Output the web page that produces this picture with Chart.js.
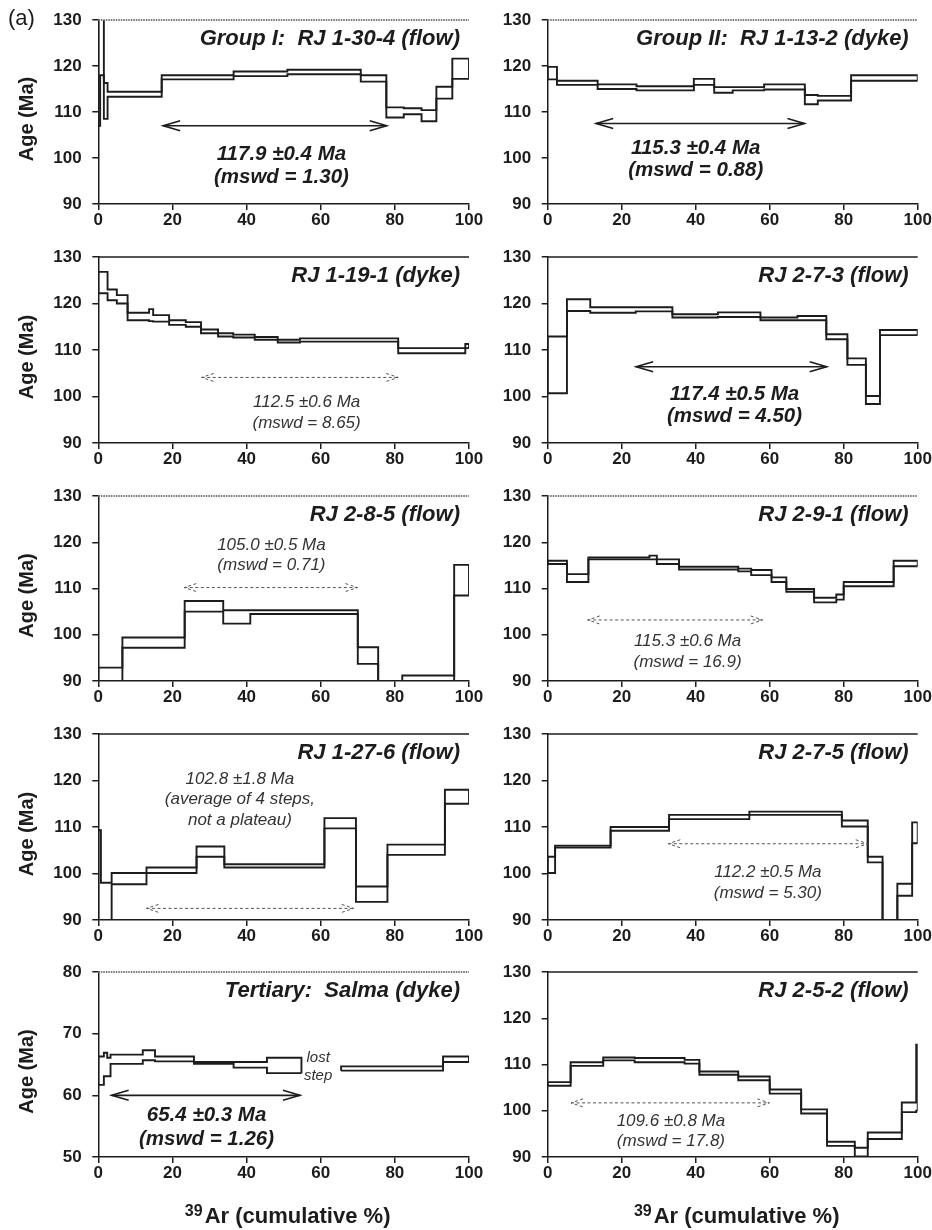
<!DOCTYPE html>
<html>
<head>
<meta charset="utf-8">
<script src="https://cdn.jsdelivr.net/npm/chart.js@4.4.1/dist/chart.umd.min.js"></script>
<style>
  body { margin: 0; background: #fff; }
  #wrap { position: relative; width: 932px; height: 1230px; overflow: hidden; }
  canvas { position: absolute; }
</style>
</head>
<body>
<div id="wrap"></div>
<script>
// step edges (cumulative % 39Ar), upper and lower age bounds (Ma) for each step
const edges1 = [0, 0.5, 1.5, 2.5, 17.1, 36.5, 51, 70.8, 77.7, 82.4, 87.2, 91.2, 95.5, 100];
const hi1 = [140, 140, 116.3, 114.4, 118.0, 118.8, 119.2, 118.0, 111.0, 110.8, 110.4, 115.5, 121.6];
const lo1 = [107, 118, 108.5, 113.3, 117.1, 117.8, 118.2, 116.6, 108.8, 109.5, 108.0, 112.9, 117.2];

const edges2 = [0, 2.5, 13.5, 24, 39.5, 45, 50, 58.5, 69.5, 73, 82, 100];
const hi2 = [119.8, 116.8, 116.0, 115.6, 117.2, 115.4, 115.4, 116.0, 113.7, 113.5, 118.0];
const lo2 = [117.1, 115.9, 115.0, 114.7, 115.9, 114.2, 114.7, 114.9, 111.7, 112.5, 116.8];

const edges3 = [0, 2.5, 5.0, 7.9, 13.7, 14.8, 19.1, 23.6, 27.7, 32.3, 36.4, 42.2, 48.4, 54.4, 80.9, 99.0, 100];
const hi3 = [126.8, 123.0, 121.8, 118.0, 118.8, 117.5, 116.4, 116.0, 114.4, 113.6, 113.3, 112.8, 112.2, 112.5, 110.4, 111.3];
const lo3 = [122.2, 120.7, 120.0, 116.4, 116.2, 116.1, 115.4, 115.0, 113.6, 112.9, 112.7, 112.2, 111.6, 111.8, 109.3, 110.4];

const edges4 = [0, 5.2, 11.5, 23.8, 33.7, 46, 57.5, 67.5, 75.3, 81, 86, 89.8, 100];
const hi4 = [112.9, 120.9, 119.2, 119.2, 117.7, 118.1, 117.0, 117.3, 113.4, 108.2, 100.1, 114.3];
const lo4 = [100.7, 118.4, 118.0, 118.3, 117.0, 117.1, 116.4, 116.4, 112.3, 106.8, 98.4, 113.2];

const edges5 = [0, 6.5, 23.3, 33.7, 41, 70, 75.5, 82, 96, 100];
const hi5 = [92.9, 99.4, 107.3, 105.3, 105.3, 97.3, 85, 91.2, 115.1];
const lo5 = [85, 97.2, 105.0, 102.4, 104.5, 93.7, 82, 85, 108.5];

const edges6 = [0, 5.2, 11, 27.5, 29.5, 35.5, 51.5, 55, 60.5, 64.5, 72, 78, 80, 93.5, 100];
const hi6 = [116.0, 113.1, 116.7, 117.1, 116.3, 114.7, 114.3, 114.0, 112.4, 109.9, 108.0, 108.7, 111.4, 116.0];
const lo6 = [115.3, 111.4, 116.3, 116.3, 115.3, 114.1, 113.7, 112.9, 111.4, 109.3, 107.0, 107.6, 110.5, 114.8];

const edges7 = [0, 0.7, 3.6, 13, 26.5, 34, 61, 69.5, 78, 93.5, 100];
const hi7 = [109.3, 98.0, 100.1, 101.3, 105.8, 102.0, 111.9, 97.2, 106.2, 118.0];
const lo7 = [85, 85, 97.7, 100.1, 103.6, 101.3, 109.7, 93.9, 104.0, 115.0];

const edges8 = [0, 2, 17, 32.8, 54.5, 79.5, 86.5, 90.5, 94.5, 98.5, 100];
const hi8 = [103.6, 106.0, 110.0, 112.6, 113.3, 111.4, 103.6, 88, 97.8, 111.0];
const lo8 = [100.1, 105.6, 109.2, 111.7, 112.6, 110.1, 102.4, 85, 95.2, 106.5];

const edges9 = [0, 1.5, 2.4, 3.3, 12, 15.3, 25.8, 36.5, 45.5, 54.8, 65.5, 93, 100];
const hi9 = [66.3, 66.9, 66.1, 66.6, 67.3, 66.3, 65.4, 65.4, 66.1, null, 64.7, 66.3];
const lo9 = [61.7, 63.1, 63.1, 65.1, 65.7, 65.5, 65.1, 64.5, 63.6, null, 64.0, 65.4];

const edges10 = [0, 6.2, 15, 23.5, 37, 41, 51.5, 60, 68.5, 75.5, 83, 86.5, 95.7, 99.6, 100];
const hi10 = [106.2, 110.5, 111.5, 111.4, 111.0, 108.5, 107.4, 104.6, 100.3, 93.3, 92.0, 95.3, 101.8, 114.3];
const lo10 = [105.4, 109.7, 110.9, 110.5, 110.2, 107.8, 106.6, 103.7, 99.4, 92.4, 90.1, 93.9, 99.7, 100];

const titles = [
  'Group I:  RJ 1-30-4 (flow)', 'Group II:  RJ 1-13-2 (dyke)',
  'RJ 1-19-1 (dyke)', 'RJ 2-7-3 (flow)',
  'RJ 2-8-5 (flow)', 'RJ 2-9-1 (flow)',
  'RJ 1-27-6 (flow)', 'RJ 2-7-5 (flow)',
  'Tertiary:  Salma (dyke)', 'RJ 2-5-2 (flow)'
];
const yMin = [90, 90, 90, 90, 90, 90, 90, 90, 50, 90];
const yMax = [130, 130, 130, 130, 130, 130, 130, 130, 80, 130];
const yTickStep = [10, 10, 10, 10, 10, 10, 10, 10, 10, 10];
const xTicks = [0, 20, 40, 60, 80, 100];

// plateau arrows: start %, end %, age level
const arrowFrom = [17.5, 13.1, 27.9, 23.9, 23.2, 10.8, 13.0, 32.6, 3.6, 6.3];
const arrowTo = [77.8, 69.4, 80.9, 75.4, 69.9, 58.1, 68.9, 86.5, 54.4, 59.9];
const arrowAt = [107, 107.5, 104.1, 106.4, 110.2, 103.2, 92.5, 106.4, 60.0, 101.7];
const isPlateau = [true, true, false, true, false, false, false, false, true, false];

// plateau age labels
const noteLines = [
  ['117.9 ±0.4 Ma', '(mswd = 1.30)'],
  ['115.3 ±0.4 Ma', '(mswd = 0.88)'],
  ['112.5 ±0.6 Ma', '(mswd = 8.65)'],
  ['117.4 ±0.5 Ma', '(mswd = 4.50)'],
  ['105.0 ±0.5 Ma', '(mswd = 0.71)'],
  ['115.3 ±0.6 Ma', '(mswd = 16.9)'],
  ['102.8 ±1.8 Ma', '(average of 4 steps,', 'not a plateau)'],
  ['112.2 ±0.5 Ma', '(mswd = 5.30)'],
  ['65.4 ±0.3 Ma', '(mswd = 1.26)'],
  ['109.6 ±0.8 Ma', '(mswd = 17.8)']
];
const noteX = [49.4, 40, 56.2, 50.5, 46.7, 37.8, 38.2, 59.5, 29.2, 33.3];
const noteY = [
  [100.7, 95.9], [102.1, 97.4], [98.7, 94.3], [100.4, 95.7], [119.4, 115.0],
  [98.5, 94.0], [120.2, 115.9, 111.4], [100.2, 95.7], [56.8, 52.9], [97.7, 93.4]
];
const lostLines = ['lost', 'step'];
const lostX = 59.3;
const lostY = [66.1, 63.1];

const dottedTop = [true, true, false, false, true, true, false, false, true, false];

const FONT = '"Liberation Sans", Arial, sans-serif';
const INK = '#1c1c1c';

const panels = [
  [edges1, hi1, lo1], [edges2, hi2, lo2], [edges3, hi3, lo3], [edges4, hi4, lo4],
  [edges5, hi5, lo5], [edges6, hi6, lo6], [edges7, hi7, lo7], [edges8, hi8, lo8],
  [edges9, hi9, lo9], [edges10, hi10, lo10]
];

// upper line closes each run of steps at both ends, lower line is a plain step line
function stepLines(edges, hi, lo) {
  const up = [], dn = [];
  for (let i = 0; i < hi.length; i++) {
    if (hi[i] === null) {
      up.push({ x: edges[i], y: null });
      dn.push({ x: edges[i], y: null });
      continue;
    }
    const first = i === 0 || hi[i - 1] === null;
    const last = i === hi.length - 1 || hi[i + 1] === null;
    if (first) up.push({ x: edges[i], y: lo[i] });
    up.push({ x: edges[i], y: hi[i] });
    dn.push({ x: edges[i], y: lo[i] });
    if (last) {
      up.push({ x: edges[i + 1], y: hi[i] });
      up.push({ x: edges[i + 1], y: lo[i] });
      dn.push({ x: edges[i + 1], y: lo[i] });
    }
  }
  return [up, dn];
}

function drawArrow(ctx, x0, x1, yy, solid) {
  ctx.strokeStyle = solid ? INK : '#555';
  ctx.lineWidth = solid ? 1.6 : 1;
  ctx.setLineDash(solid ? [] : [3, 2.5]);
  ctx.beginPath();
  ctx.moveTo(x0, yy); ctx.lineTo(x1, yy);
  ctx.stroke();
  const L = solid ? 17 : 12, H = solid ? 5 : 4;
  ctx.beginPath();
  ctx.moveTo(x0 + L, yy - H); ctx.lineTo(x0, yy); ctx.lineTo(x0 + L, yy + H);
  ctx.moveTo(x1 - L, yy - H); ctx.lineTo(x1, yy); ctx.lineTo(x1 - L, yy + H);
  ctx.stroke();
  ctx.setLineDash([]);
}

const decor = {
  id: 'decor',
  afterDraw(chart, args, opts) {
    const i = opts.idx;
    const ctx = chart.ctx, a = chart.chartArea;
    const xs = chart.scales.x, ys = chart.scales.y;
    ctx.save();

    // top frame line
    ctx.setLineDash(dottedTop[i] ? [1.5, 1] : []);
    ctx.strokeStyle = dottedTop[i] ? '#777' : INK;
    ctx.lineWidth = dottedTop[i] ? 2 : 1.5;
    ctx.beginPath(); ctx.moveTo(a.left, a.top); ctx.lineTo(a.right, a.top); ctx.stroke();
    ctx.setLineDash([]);

    // sample title
    ctx.fillStyle = INK;
    ctx.font = 'italic bold 22px ' + FONT;
    ctx.textAlign = 'right';
    ctx.textBaseline = 'middle';
    ctx.fillText(titles[i], a.right - 9, a.top + 19);

    // plateau arrow and label
    drawArrow(ctx, xs.getPixelForValue(arrowFrom[i]), xs.getPixelForValue(arrowTo[i]),
      ys.getPixelForValue(arrowAt[i]), isPlateau[i]);
    ctx.textAlign = 'center';
    ctx.fillStyle = isPlateau[i] ? INK : '#333';
    ctx.font = isPlateau[i] ? 'italic bold 20.5px ' + FONT : 'italic 17px ' + FONT;
    noteLines[i].forEach((t, k) => {
      ctx.fillText(t, xs.getPixelForValue(noteX[i]), ys.getPixelForValue(noteY[i][k]));
    });

    if (i === 8) {
      ctx.font = 'italic 15px ' + FONT;
      ctx.fillStyle = '#333';
      lostLines.forEach((t, k) => {
        ctx.fillText(t, xs.getPixelForValue(lostX), ys.getPixelForValue(lostY[k]));
      });
    }

    // y title on the left column
    if (i % 2 === 0) {
      ctx.save();
      ctx.translate(27, (a.top + a.bottom) / 2 + 7);
      ctx.rotate(-Math.PI / 2);
      ctx.font = 'bold 20px ' + FONT;
      ctx.fillStyle = INK;
      ctx.fillText('Age (Ma)', 0, 0);
      ctx.restore();
    }

    // x title under the bottom row
    if (i >= 8) {
      const base = a.bottom + 66;
      ctx.font = 'bold 16px ' + FONT;
      const w1 = ctx.measureText('39').width;
      ctx.font = 'bold 22px ' + FONT;
      const main = 'Ar (cumulative %)';
      const w2 = ctx.measureText(main).width;
      const cx = (a.left + a.right) / 2 + 4;
      const x0 = cx - (w1 + 2 + w2) / 2;
      ctx.textAlign = 'left';
      ctx.textBaseline = 'alphabetic';
      ctx.fillStyle = INK;
      ctx.font = 'bold 16px ' + FONT;
      ctx.fillText('39', x0, base - 7);
      ctx.font = 'bold 22px ' + FONT;
      ctx.fillText(main, x0 + w1 + 2, base);
    }

    if (i === 0) {
      ctx.font = '22px ' + FONT;
      ctx.textAlign = 'left';
      ctx.textBaseline = 'middle';
      ctx.fillStyle = INK;
      ctx.fillText('(a)', 8, a.top - 1);
    }
    ctx.restore();
  }
};

const rowTop = [20, 257, 496, 734, 972];
const rowBottom = [204, 443, 681, 920, 1157];
const colLeft = [0, 480];
const colWidth = [490, 452];
const axisWidth = [98.3, 67.7];
const padRight = [21, 14.3];
const PAD_TOP = 24, X_AXIS_H = 32;

const wrap = document.getElementById('wrap');

panels.forEach(([edges, hi, lo], i) => {
  const col = i % 2, row = Math.floor(i / 2);
  const extra = row === 4 ? 50 : 0;
  const h = PAD_TOP + (rowBottom[row] - rowTop[row]) + X_AXIS_H + extra;
  const cv = document.createElement('canvas');
  cv.width = colWidth[col];
  cv.height = h;
  cv.style.left = colLeft[col] + 'px';
  cv.style.top = (rowTop[row] - PAD_TOP) + 'px';
  cv.style.width = colWidth[col] + 'px';
  cv.style.height = h + 'px';
  wrap.appendChild(cv);

  const [up, dn] = stepLines(edges, hi, lo);
  const lineStyle = {
    borderColor: INK, borderWidth: 1.9, pointRadius: 0,
    stepped: 'before', spanGaps: false, fill: false
  };

  new Chart(cv.getContext('2d'), {
    type: 'line',
    data: {
      datasets: [
        Object.assign({ data: up }, lineStyle),
        Object.assign({ data: dn }, lineStyle)
      ]
    },
    options: {
      responsive: false,
      animation: false,
      events: [],
      layout: { padding: { top: PAD_TOP, right: padRight[col], bottom: extra, left: 0 } },
      plugins: { legend: { display: false }, tooltip: { enabled: false }, decor: { idx: i } },
      scales: {
        x: {
          type: 'linear', min: 0, max: 100,
          afterBuildTicks: s => { s.ticks = xTicks.map(v => ({ value: v })); },
          afterFit: s => { s.height = X_AXIS_H; },
          grid: { drawOnChartArea: false, drawTicks: true, tickLength: 6, color: INK, lineWidth: 1.5 },
          border: { display: true, color: INK, width: 1.5 },
          ticks: { color: INK, padding: 0, maxRotation: 0, font: { family: FONT, size: 17, weight: 'bold' } }
        },
        y: {
          min: yMin[i], max: yMax[i],
          ticks: { stepSize: yTickStep[i], color: INK, padding: 10.6, font: { family: FONT, size: 17, weight: 'bold' } },
          afterFit: s => { s.width = axisWidth[col]; },
          grid: { drawOnChartArea: false, drawTicks: true, tickLength: 6, color: INK, lineWidth: 1.5 },
          border: { display: true, color: INK, width: 1.5 }
        }
      }
    },
    plugins: [decor]
  });
});
</script>
</body>
</html>
